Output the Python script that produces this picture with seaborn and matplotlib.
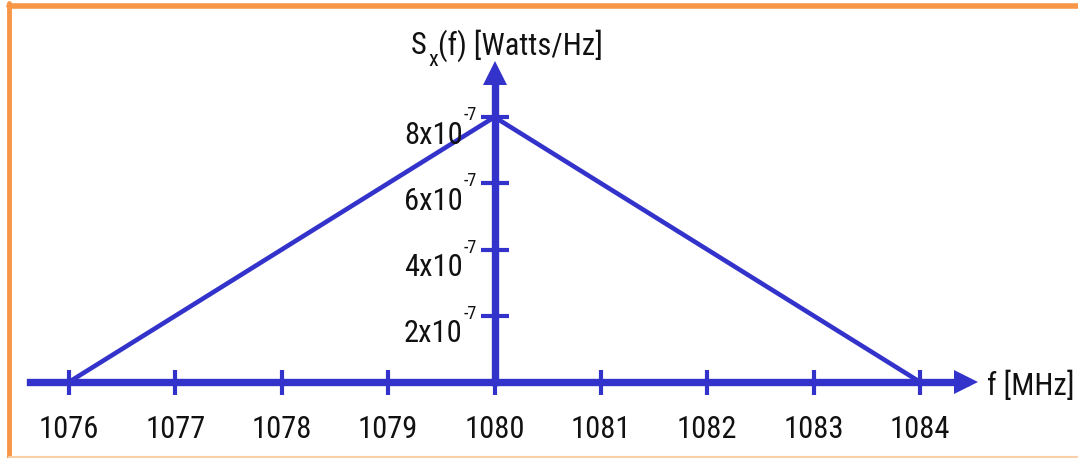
import matplotlib
matplotlib.use("Agg")
import matplotlib.pyplot as plt
import seaborn as sns
from matplotlib.lines import Line2D

# power spectral density, triangle shape
freq_mhz = [1076, 1080, 1084]
psd = [0.0, 8e-7, 0.0]

x_ticks = [1076, 1077, 1078, 1079, 1080, 1081, 1082, 1083, 1084]
y_ticks = [2e-7, 4e-7, 6e-7, 8e-7]
y_tick_base = ["2x10", "4x10", "6x10", "8x10"]
y_tick_exp = "-7"

BLUE = "#3333cc"
ORANGE = "#f79646"
TXT = "#111111"

sns.set_style("white")
plt.rcParams["font.family"] = ["Roboto Condensed", "Archivo Narrow", "DejaVu Sans"]

W, H = 1078, 458
fig = plt.figure(figsize=(W / 100, H / 100), dpi=100)
ax = fig.add_axes([30 / W, 76 / H, 936 / W, 309 / H])

sns.lineplot(x=freq_mhz, y=psd, ax=ax, color=BLUE, linewidth=3.3, clip_on=False)

ax.set_xlim(1075.633, 1084.4325)
ax.set_ylim(0, 9.33e-7)

# axes through the origin at 1080 MHz
for side in ["top", "right"]:
    ax.spines[side].set_visible(False)
ax.spines["left"].set_position(("data", 1080))
for side in ["left", "bottom"]:
    ax.spines[side].set_color(BLUE)
    ax.spines[side].set_linewidth(5.3)
    ax.spines[side].set_zorder(3)

# arrow heads
ax.plot(1, 0, ">", transform=ax.get_yaxis_transform(), clip_on=False,
        ms=17, color=BLUE, mew=0)
ax.plot(1080, 1, "^", transform=ax.get_xaxis_transform(), clip_on=False,
        ms=17, color=BLUE, mew=0)

ax.set_xticks(x_ticks)
ax.set_xticklabels([str(t) for t in x_ticks])
ax.tick_params(axis="x", bottom=True, direction="inout", length=18, width=3,
               color=BLUE, labelsize=22, pad=14.5, labelcolor=TXT)

ax.set_yticks(y_ticks)
ax.set_yticklabels([])
ax.tick_params(axis="y", left=True, direction="inout", length=20, width=3, color=BLUE)

for yv, lab in zip(y_ticks, y_tick_base):
    ax.annotate(lab, xy=(1080, yv), xytext=(-32, -18), textcoords="offset pixels",
                ha="right", va="center", fontsize=22, color=TXT)
    ax.annotate(y_tick_exp, xy=(1080, yv), xytext=(-31, 2), textcoords="offset pixels",
                ha="left", va="center", fontsize=13, color=TXT)

ax.set_xlabel("")
ax.set_ylabel("")

# axis titles
fig.text(427 / W, 1 - 46 / H, "S", ha="right", va="center", fontsize=22, color=TXT)
fig.text(428 / W, 1 - 61 / H, "x", ha="left", va="center", fontsize=16, color=TXT)
fig.text(438 / W, 1 - 46 / H, "(f) [Watts/Hz]", ha="left", va="center",
         fontsize=22, color=TXT)
fig.text(987 / W, 1 - 386 / H, "f [MHz]", ha="left", va="center",
         fontsize=22, color=TXT)

# slide frame
fig.add_artist(Line2D([9 / W, 1], [1 - 5.5 / H, 1 - 5.5 / H], color=ORANGE, lw=4,
                      transform=fig.transFigure))
fig.add_artist(Line2D([9 / W, 9 / W], [0, 1 - 3 / H], color=ORANGE, lw=3.5,
                      transform=fig.transFigure))
fig.add_artist(Line2D([9 / W, 1], [1.5 / H, 1.5 / H], color="#f9cfa8", lw=1.5,
                      transform=fig.transFigure))

fig.savefig("out.png", dpi=100)
